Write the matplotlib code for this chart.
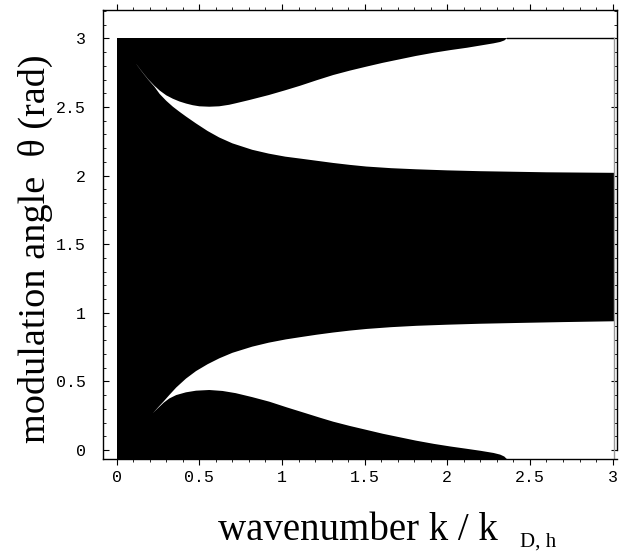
import numpy as np
import matplotlib
matplotlib.use("Agg")
import matplotlib.pyplot as plt
from matplotlib.ticker import MultipleLocator

# ---- data ----
# upper white lobe: upper boundary (k, theta)
k_upper_top = [0.12, 0.15, 0.19, 0.228, 0.26, 0.30, 0.34, 0.38, 0.42, 0.46, 0.50, 0.56, 0.62,
               0.68, 0.72, 0.80, 0.92, 1.02, 1.11, 1.21, 1.31, 1.41, 1.51, 1.61, 1.71, 1.81,
               1.92, 2.02, 2.12, 2.20, 2.28, 2.32, 2.345, 2.36]
th_upper_top = [2.811, 2.763, 2.703, 2.655, 2.62, 2.585, 2.56, 2.54, 2.525, 2.513, 2.505, 2.502,
                2.505, 2.516, 2.527, 2.55, 2.587, 2.622, 2.655, 2.695, 2.733, 2.765, 2.794,
                2.822, 2.847, 2.872, 2.896, 2.915, 2.932, 2.948, 2.964, 2.974, 2.985, 3.0]
# upper white lobe: lower boundary
k_upper_bot = [0.12, 0.15, 0.19, 0.228, 0.26, 0.30, 0.34, 0.38, 0.42, 0.48, 0.55, 0.62, 0.70,
               0.82, 0.92, 1.02, 1.11, 1.21, 1.31, 1.41, 1.51, 1.66, 1.81, 2.0, 2.2, 2.4, 2.6,
               2.8, 3.01]
th_upper_bot = [2.810, 2.761, 2.700, 2.648, 2.595, 2.545, 2.502, 2.465, 2.43, 2.38, 2.325,
                2.278, 2.235, 2.188, 2.16, 2.138, 2.124, 2.108, 2.092, 2.078, 2.066, 2.054,
                2.046, 2.038, 2.032, 2.028, 2.024, 2.022, 2.02]
# lower white lobe: upper boundary
k_lower_top = [0.218, 0.25, 0.285, 0.318, 0.36, 0.419, 0.48, 0.55, 0.621, 0.70, 0.82, 0.92,
               1.024, 1.11, 1.21, 1.31, 1.41, 1.512, 1.66, 1.815, 2.0, 2.2, 2.44, 2.7, 3.01]
th_lower_top = [0.267, 0.31, 0.355, 0.40, 0.455, 0.52, 0.575, 0.625, 0.668, 0.708, 0.753,
                0.782, 0.806, 0.822, 0.840, 0.856, 0.870, 0.882, 0.895, 0.905, 0.913, 0.920,
                0.926, 0.932, 0.938]
# lower white lobe: lower boundary
k_lower_bot = [0.218, 0.25, 0.285, 0.318, 0.36, 0.419, 0.48, 0.56, 0.64, 0.72, 0.82, 0.923,
               1.03, 1.145, 1.23, 1.31, 1.41, 1.512, 1.61, 1.71, 1.81, 1.92, 2.02, 2.12, 2.20,
               2.28, 2.32, 2.345, 2.36]
th_lower_bot = [0.267, 0.305, 0.345, 0.375, 0.40, 0.42, 0.432, 0.437, 0.43, 0.414, 0.385,
                0.352, 0.31, 0.267, 0.235, 0.206, 0.175, 0.146, 0.118, 0.093, 0.068, 0.044,
                0.025, 0.008, -0.006, -0.022, -0.034, -0.048, -0.066]

k_max = 3.01
th_min, th_max = -0.066, 3.0

x_ticks = [0, 0.5, 1, 1.5, 2, 2.5, 3]
x_ticklabels = ["0", "0.5", "1", "1.5", "2", "2.5", "3"]
y_ticks = [0, 0.5, 1, 1.5, 2, 2.5, 3]
y_ticklabels = ["0", "0.5", "1", "1.5", "2", "2.5", "3"]

W, H = 630, 551
fig = plt.figure(figsize=(W / 100, H / 100), dpi=100)
ax = fig.add_axes([102.7 / W, (H - 459) / H, (616.7 - 102.7) / W, (459 - 10) / H])
ax.set_xlim(-0.0847, 3.025)
ax.set_ylim(th_min, 3.207)

# black region
ax.fill_between([0, k_max], [th_min, th_min], [th_max + 0.006, th_max + 0.006],
                color="black", lw=0)

# upper white lobe
poly_k = k_upper_top + [k_max] + k_upper_bot[::-1]
poly_t = th_upper_top + [th_max] + th_upper_bot[::-1]
ax.fill(poly_k, poly_t, color="white", lw=0)

# lower white lobe
poly_k2 = k_lower_bot + [k_max] + k_lower_top[::-1]
poly_t2 = th_lower_bot + [th_min] + th_lower_top[::-1]
ax.fill(poly_k2, poly_t2, color="white", lw=0)

# edges of the data region
ax.plot([k_upper_top[-1], k_max], [th_max, th_max], color="black", lw=1.0)
ax.plot([k_max, k_max], [th_min, th_max], color="#9a9a9a", lw=1.0)

# ticks
mono = "Liberation Mono"
ax.set_xticks(x_ticks)
ax.set_xticklabels(x_ticklabels, fontfamily=mono, fontsize=12)
ax.set_yticks(y_ticks)
ax.set_yticklabels(y_ticklabels, fontfamily=mono, fontsize=12)
ax.xaxis.set_minor_locator(MultipleLocator(0.1))
ax.yaxis.set_minor_locator(MultipleLocator(0.1))
ax.tick_params(axis="x", which="major", direction="out", length=4, width=0.8, pad=4,
               top=True, labeltop=False)
ax.tick_params(axis="x", which="minor", direction="out", length=2, width=0.6, top=True)
ax.tick_params(axis="y", which="major", direction="in", length=4, width=0.8, pad=12,
               right=True, labelright=False)
ax.tick_params(axis="y", which="minor", direction="in", length=2, width=0.6, right=True)
for sp in ax.spines.values():
    sp.set_linewidth(1.0)
ax.spines["right"].set_bounds(0, 3.207)

# axis labels
serif = "Liberation Serif"
fig.text(218.3 / W, (H - 540) / H, "wavenumber k / k", fontfamily=serif, fontsize=28,
         ha="left", va="baseline")
fig.text(520 / W, (H - 546.7) / H, "D, h", fontfamily=serif, fontsize=15,
         ha="left", va="baseline")
fig.text(45 / W, (H - 249) / H, "modulation angle  θ (rad)", fontfamily=serif, fontsize=27.5,
         rotation=90, rotation_mode="anchor", ha="center", va="baseline")

fig.savefig("out.png", dpi=100)
